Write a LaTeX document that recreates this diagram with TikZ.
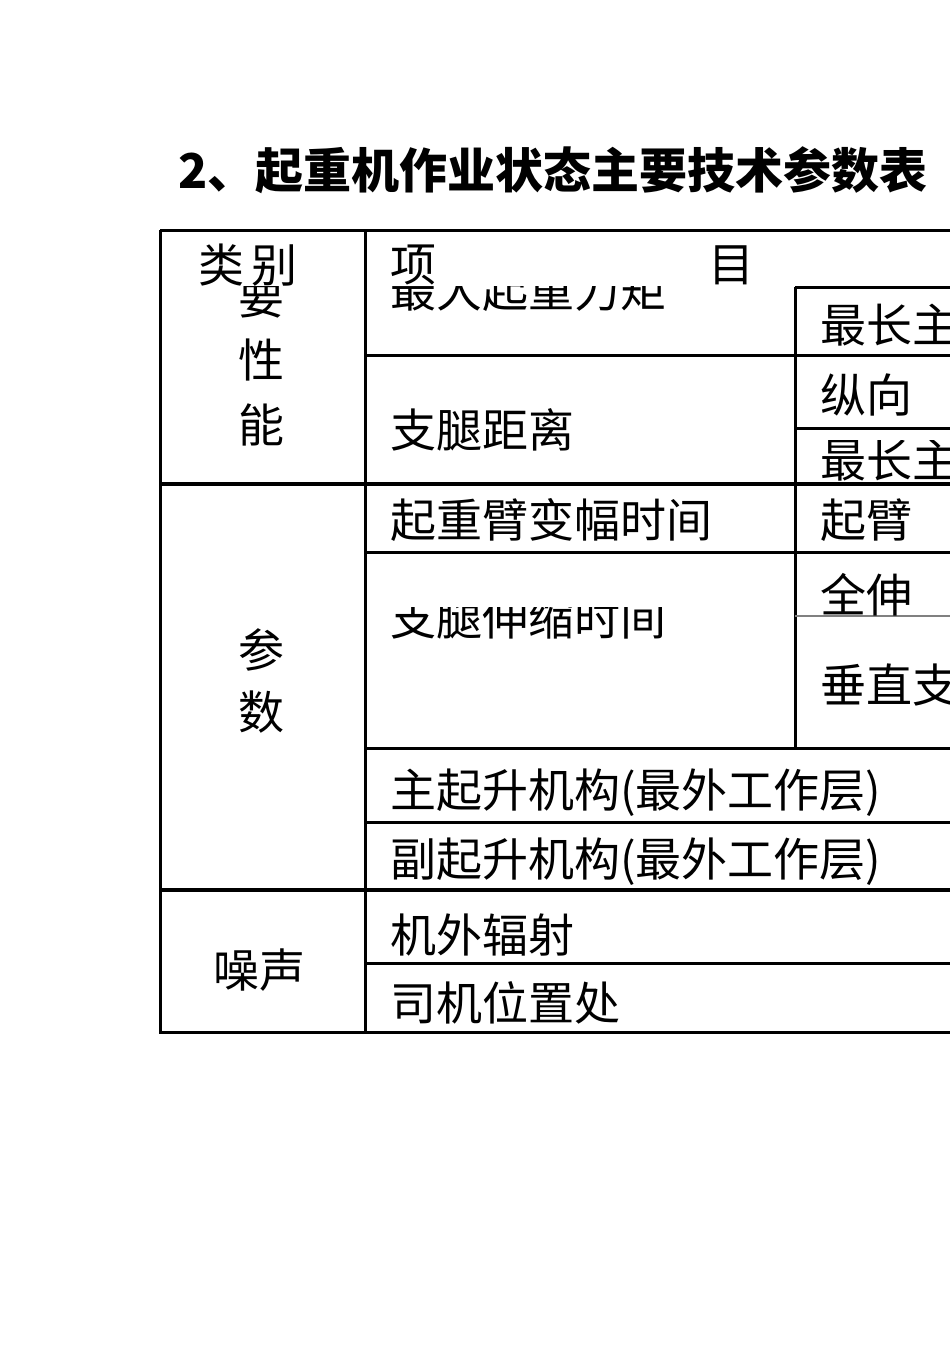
\documentclass[tikz,border=0pt]{standalone}
\usepackage{fontspec}
\newfontfamily\cjk{Noto Sans CJK SC}
\begin{document}
\begin{tikzpicture}[x=1pt,y=-1pt,
  t/.style={font=\cjk\fontsize{46}{46}\selectfont,anchor=west,inner sep=0pt},
  thick line/.style={line width=3pt},
  thin line/.style={line width=1.6pt}]
\useasboundingbox (0,0) rectangle (950,1345);
\clip (0,0) rectangle (950,1345);
\node[t,font=\cjk\bfseries\fontsize{48}{48}\selectfont] (title) at (178,170) {2、起重机作业状态主要技术参数表};
% grid
\draw[thick line] (160,230) -- (960,230);
\draw[thick line] (160,230) -- (160,1032) -- (960,1032);
\draw[thick line] (365,230) -- (365,1032);
\draw[thick line] (795,287) -- (795,748);
\draw[thick line] (795,287) -- (960,287);
\draw[thick line] (365,355) -- (960,355);
\draw[thick line] (795,428) -- (960,428);
\draw[line width=4pt] (160,484) -- (960,484);
\draw[thick line] (365,552) -- (960,552);
\draw[thin line,gray] (795,616) -- (960,616);
\draw[thick line] (365,748) -- (960,748);
\draw[thick line] (365,822) -- (960,822);
\draw[line width=4pt] (160,890) -- (960,890);
\draw[thick line] (365,963) -- (960,963);
% column 1
\node[t] (lb) at (198,265) {类\,别};
\begin{scope}\clip (170,286) rectangle (360,330);
\node[t] (yao) at (238,298) {要};\end{scope}
\node[t] (xing) at (238,360) {性};
\node[t] (neng) at (238,425) {能};
\node[t] (can) at (238,650) {参};
\node[t] (shu) at (238,712) {数};
\node[t] (zs) at (213,970) {噪声};
% column 2
\node[t] (xiang) at (390,265) {项};
\node[t] (mu) at (708,265) {目};
\begin{scope}\clip (370,286) rectangle (790,350);
\node[t] (m1) at (390,290) {最大起重力矩};\end{scope}
\begin{scope}\clip (370,360) rectangle (790,452);
\node[t] (m2) at (390,430) {支腿距离};\end{scope}
\node[t] (m3) at (390,520) {起重臂变幅时间};
\begin{scope}\clip (370,607) rectangle (790,660);
\node[t] (m4) at (390,618) {支腿伸缩时间};\end{scope}
\node[t] (m5) at (390,793) {主起升机构(最外工作层)};
\node[t] (m6) at (390,862) {副起升机构(最外工作层)};
\node[t] (m7) at (390,935) {机外辐射};
\node[t] (m8) at (390,1003) {司机位置处};
% column 3
\node[t] (c1) at (820,325) {最长主臂};
\node[t] (c2) at (820,395) {纵向};
\begin{scope}\clip (800,440) rectangle (960,480);
\node[t] (c3) at (820,460) {最长主臂};\end{scope}
\node[t] (c4) at (820,520) {起臂};
\begin{scope}\clip (800,560) rectangle (960,615);
\node[t] (c5) at (820,595) {全伸};\end{scope}
\node[t] (c6) at (820,685) {垂直支腿};
\end{tikzpicture}
\end{document}
